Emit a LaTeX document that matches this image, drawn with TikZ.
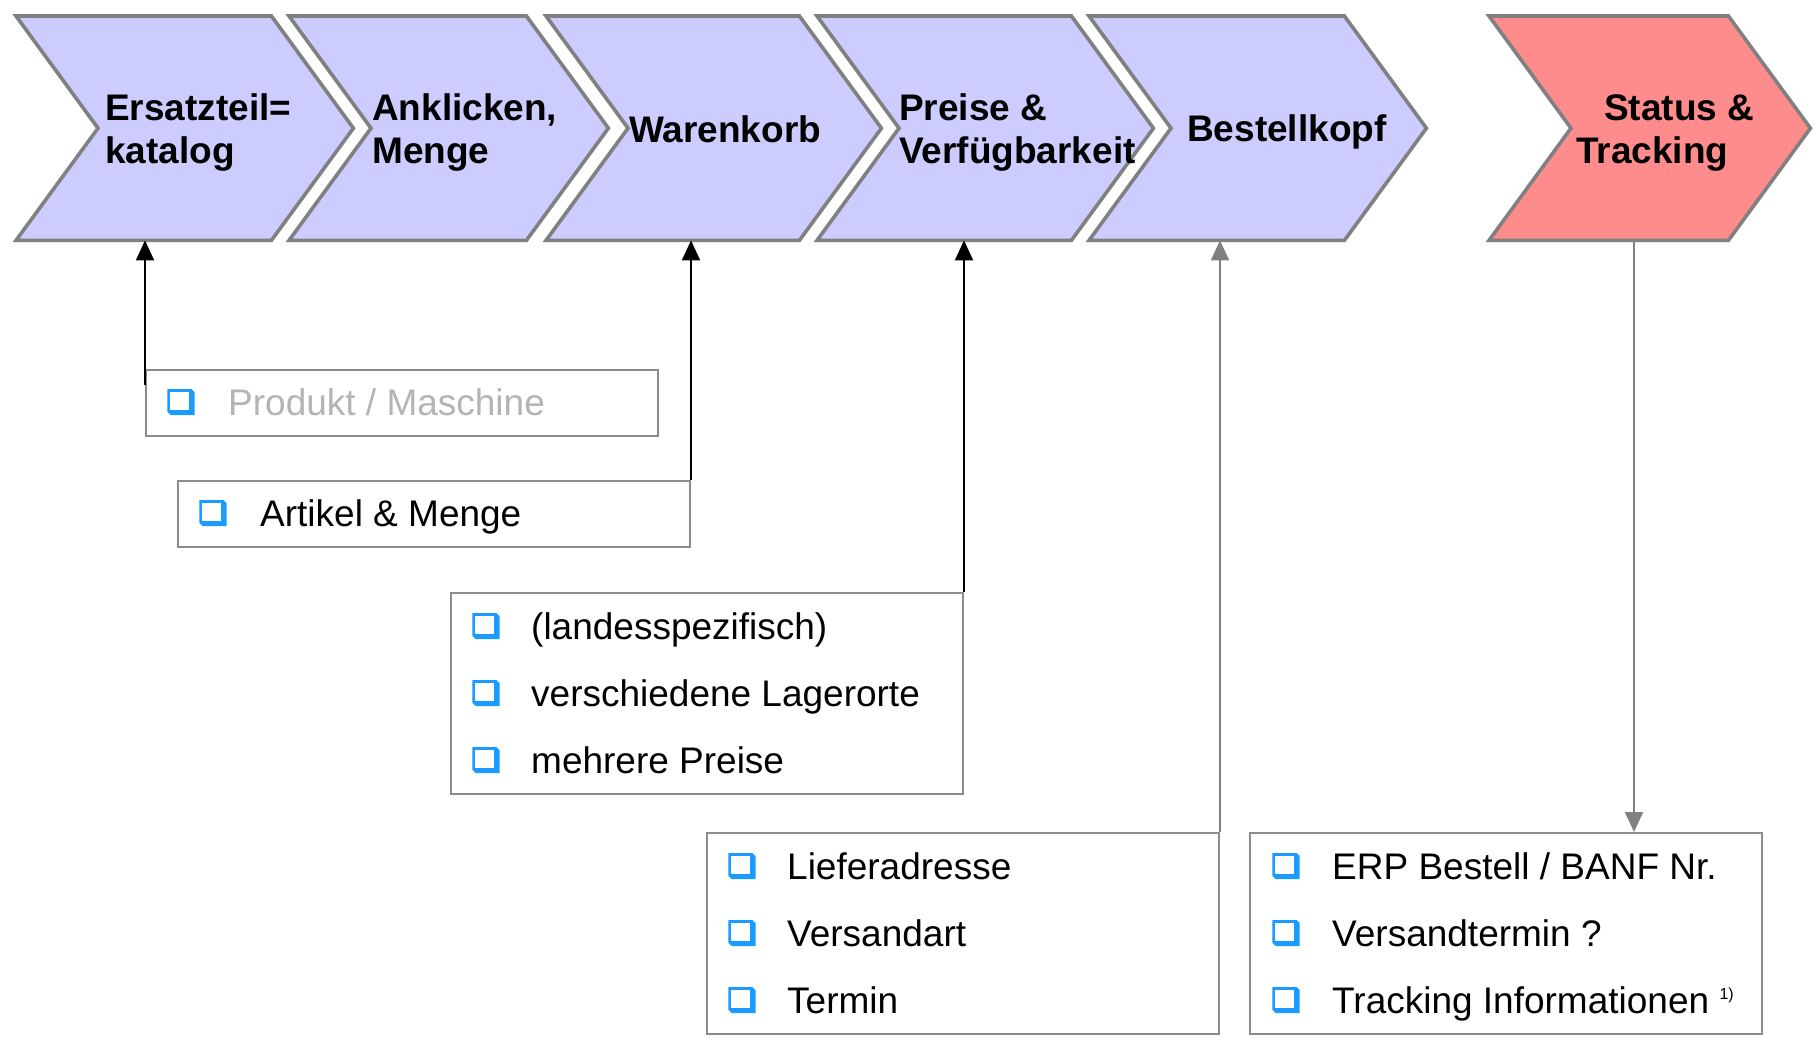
\documentclass[tikz,border=0pt]{standalone}
\usepackage{fontspec}
\setmainfont{Liberation Sans}
\usetikzlibrary{arrows.meta,calc}
\definecolor{chevfill}{HTML}{CCCCFF}
\definecolor{redfill}{HTML}{FF8C8C}
\definecolor{edgegray}{HTML}{808080}
\definecolor{boxgray}{HTML}{8C8C8C}
\definecolor{cbblue}{HTML}{1A9BFF}
\definecolor{faded}{HTML}{B4B4B4}
\definecolor{linegray}{HTML}{808080}
\newcommand\chevshape[2]{%
  \draw[chevline, fill=#2] (#1.north west) -- ($(#1.north east)+(-82,0)$) -- (#1.east)
    -- ($(#1.south east)+(-82,0)$) -- (#1.south west) -- ($(#1.west)+(82,0)$) -- cycle;}
\begin{document}
\begin{tikzpicture}[x=1pt,y=-1pt,
  chevnode/.style={draw=none, inner sep=0, minimum height=224pt, anchor=north west},
  chevline/.style={draw=edgegray, line width=3.6pt, line join=miter},
  lbl/.style={font=\fontsize{37}{43}\selectfont\bfseries, align=left, inner sep=0, anchor=west},
  box/.style={draw=boxgray, line width=2pt, fill=white, minimum width=512pt, inner sep=0, anchor=north west},
  item/.style={font=\fontsize{37}{44}\selectfont, inner sep=0, anchor=base west},
  conn/.style={draw=black, line width=2pt, -{Triangle[width=18pt,length=20pt]}},
  conng/.style={conn, draw=linegray},
  chk/.pic={
    \fill[cbblue] (-13.6,-13) -- (10.5,-13) -- (13.7,-9.8) -- (13.7,13) -- (-10.4,13) -- (-13.6,9.8) -- cycle;
    \fill[white] (-10.6,-10.3) rectangle (8,8);
  }]
\useasboundingbox (0,0) rectangle (1817,1039);

% chevron frames
\node[chevnode, minimum width=337pt] (ch1) at (16,16) {};
\node[chevnode, minimum width=319pt] (ch2) at (289,16) {};
\node[chevnode, minimum width=335pt] (ch3) at (546,16) {};
\node[chevnode, minimum width=336pt] (ch4) at (817,16) {};
\node[chevnode, minimum width=337pt] (ch5) at (1089,16) {};
\node[chevnode, minimum width=321pt] (ch6) at (1489,16) {};
\chevshape{ch1}{chevfill}
\chevshape{ch2}{chevfill}
\chevshape{ch3}{chevfill}
\chevshape{ch4}{chevfill}
\chevshape{ch5}{chevfill}
\chevshape{ch6}{redfill}

% chevron labels
\node[lbl] (l1) at (105,133) {Ersatzteil=\\katalog};
\node[lbl] (l2) at (372,133) {Anklicken,\\Menge};
\node[lbl] (l3) at (629,129) {Warenkorb};
\node[lbl] (l4) at (899,133) {Preise \&\\Verfügbarkeit};
\node[lbl] (l5) at (1187,132) {Bestellkopf};
\node[lbl] (l6) at (1576,133) {\hspace*{28pt}Status \&\\Tracking};

% boxes
\node[box, minimum height=66pt] (box1) at (145,369) {};
\node[box, minimum height=66pt] (box2) at (177,480) {};
\node[box, minimum height=201pt] (box3) at (450,592) {};
\node[box, minimum height=201pt] (box4) at (706,832) {};
\node[box, minimum height=201pt] (box5) at (1249,832) {};

% items
\pic at (181,402) {chk};
\node[item, text=faded] (i11) at (228,415) {Produkt / Maschine};
\pic at (213,513) {chk};
\node[item] (i21) at (260,526) {Artikel \& Menge};

\pic at (486,626) {chk};
\node[item] (i31) at (531,639) {(landesspezifisch)};
\pic at (486,693) {chk};
\node[item] (i32) at (531,706) {verschiedene Lagerorte};
\pic at (486,760) {chk};
\node[item] (i33) at (531,773) {mehrere Preise};

\pic at (742,866) {chk};
\node[item] (i41) at (787,879) {Lieferadresse};
\pic at (742,933) {chk};
\node[item] (i42) at (787,946) {Versandart};
\pic at (742,1000) {chk};
\node[item] (i43) at (787,1013) {Termin};

\pic at (1286,866) {chk};
\node[item] (i51) at (1332,879) {ERP Bestell / BANF Nr.};
\pic at (1286,933) {chk};
\node[item] (i52) at (1332,946) {Versandtermin ?};
\pic at (1286,1000) {chk};
\node[item] (i53) at (1332,1013) {Tracking Informationen \raisebox{14pt}{\fontsize{16}{16}\selectfont 1)}};

% connectors
\coordinate (a1) at (145,385);
\draw[conn] (a1) -- (a1 |- ch1.south);
\draw[conn] (box2.north east) -- (box2.north east |- ch3.south);
\draw[conn] (box3.north east) -- (box3.north east |- ch4.south);
\draw[conng] (box4.north east) -- (box4.north east |- ch5.south);
\coordinate (s6) at (1634,240);
\draw[conng] (s6) -- (s6 |- box5.north);
\end{tikzpicture}
\end{document}
